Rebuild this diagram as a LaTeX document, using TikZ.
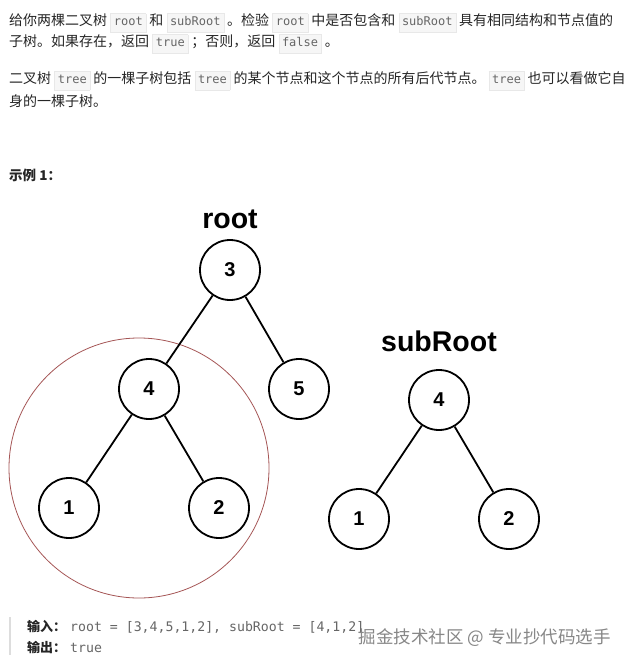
\documentclass[tikz,border=0pt]{standalone}
\usepackage{fontspec}
\setmainfont{Noto Sans CJK SC}
\newfontfamily\codefont{DejaVu Sans Mono}
\newfontfamily\labelfont{Liberation Sans}
\usepackage{tikz}
\usetikzlibrary{%
	calc,%
	positioning,%
}
\definecolor{ctext}{RGB}{38, 38, 38}
\definecolor{ccode}{RGB}{102, 102, 102}
\definecolor{ccodebg}{RGB}{246, 246, 246}
\definecolor{ccodeline}{RGB}{232, 232, 232}
\definecolor{cbar}{RGB}{221, 221, 221}
\definecolor{chighlight}{RGB}{165, 85, 85}
\definecolor{cmark}{RGB}{135, 135, 135}
\newcommand{\inlinecode}[1]{{\setlength{\fboxsep}{3pt}\setlength{\fboxrule}{0.5pt}%
	\fcolorbox{ccodeline}{ccodebg}{\codefont\fontsize{12}{12.5}\selectfont\color{ccode}\strut #1}}}
\tikzset{
	x=1pt,%
	y=-1pt,%
	textline/.style={%
			anchor=west,%
			inner sep=0,%
			text=ctext,%
			font={\fontsize{14}{16}\selectfont}},%
	treenode/.style={%
			draw,%
			circle,%
			line width=1.8pt,%
			minimum size=60pt,%
			inner sep=0,%
			fill=white,%
			font={\labelfont\bfseries\fontsize{20}{22}\selectfont}},%
	treelabel/.style={%
			inner sep=0,%
			font={\labelfont\bfseries\fontsize{28.5}{30}\selectfont}},%
	treeedge/.style={%
			line width=1.8pt},%
	outline/.style={%
			anchor=west,%
			inner sep=0,%
			text=ctext,%
			font={\fontsize{13}{15}\selectfont}},%
}
\begin{document}
\begin{tikzpicture}
	\useasboundingbox[fill=white] (0,0) rectangle (628,666);

	% problem statement
	\node[textline] (l1) at (9,23) {给你两棵二叉树 \inlinecode{root} 和 \inlinecode{subRoot} 。检验 \inlinecode{root} 中是否包含和 \inlinecode{subRoot} 具有相同结构和节点值的};
	\node[textline] (l2) at (9,44) {子树。如果存在，返回 \inlinecode{true} ；否则，返回 \inlinecode{false} 。};
	\node[textline] (l3) at (9,81) {二叉树 \inlinecode{tree} 的一棵子树包括 \inlinecode{tree} 的某个节点和这个节点的所有后代节点。 \inlinecode{tree} 也可以看做它自};
	\node[textline] (l4) at (9,101) {身的一棵子树。};
	\node[textline, font={\bfseries\fontsize{13.5}{15}\selectfont}] (ex) at (9,175) {示例 1：};

	% root tree
	\draw[chighlight, line width=0.8pt] (139,468) circle (130);
	\node[treelabel] (rootlabel) at (230,219) {root};
	\node[treenode] (r3) at (230,270) {3};
	\node[treenode] (r4) at (149,389) {4};
	\node[treenode] (r5) at (299,389) {5};
	\node[treenode] (r1) at (69,508) {1};
	\node[treenode] (r2) at (219,508) {2};
	\draw[treeedge] (r3) -- (r4);
	\draw[treeedge] (r3) -- (r5);
	\draw[treeedge] (r4) -- (r1);
	\draw[treeedge] (r4) -- (r2);

	% subRoot tree
	\node[treelabel] (sublabel) at (439,341) {subRoot};
	\node[treenode] (s4) at (439,400) {4};
	\node[treenode] (s1) at (359,519) {1};
	\node[treenode] (s2) at (509,519) {2};
	\draw[treeedge] (s4) -- (s1);
	\draw[treeedge] (s4) -- (s2);

	% input / output
	\coordinate (bartop) at (10,617);
	\coordinate (barbottom) at (10,655);
	\draw[cbar, line width=2pt] (bartop) -- (barbottom);
	\node[outline] (in) at (27,627) {\textbf{输入：}\hspace{4pt}{\codefont\fontsize{13.2}{15}\selectfont\color{ccode}root = [3,4,5,1,2], subRoot = [4,1,2]}};
	\node[outline] (out) at (27,647) {\textbf{输出：}\hspace{4pt}{\codefont\fontsize{13.2}{15}\selectfont\color{ccode}true}};
	\node[anchor=east, inner sep=0, text=cmark, font={\fontsize{17.5}{19}\selectfont}] (mark) at (611,638) {掘金技术社区 @ 专业抄代码选手};
\end{tikzpicture}
\end{document}
